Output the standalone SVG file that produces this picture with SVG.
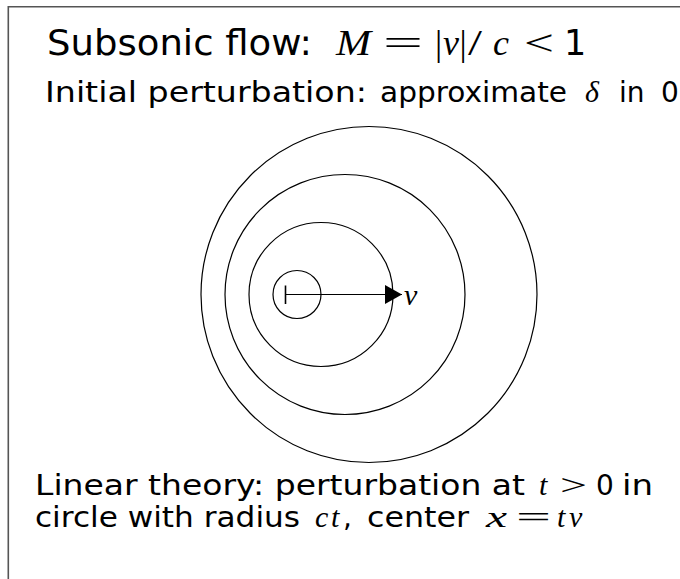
<svg xmlns="http://www.w3.org/2000/svg" width="680" height="579" viewBox="0 0 680 579">
<style>
.sans{font-family:"DejaVu Sans","Liberation Sans",sans-serif;fill:#000}
.m{font-family:"Liberation Serif","DejaVu Serif",serif;font-style:italic;fill:#000}
.r{font-family:"Liberation Serif","DejaVu Serif",serif;fill:#000}
.wave{fill:none;stroke:#000;stroke-width:1.2}
.frame{fill:none;stroke:#555;stroke-width:1.6}
</style>
<defs>
<marker id="head" markerWidth="18" markerHeight="20" refX="17" refY="9.5" orient="auto" markerUnits="userSpaceOnUse">
<path d="M0,0 L17,9.5 L0,19 Z" fill="#000"/>
</marker>
</defs>
<g id="frame">
<path class="frame" d="M8.3,579 L8.3,6.7 L680,6.7"/>
</g>
<g id="title">
<text class="sans" x="47" y="55" font-size="35" textLength="265" lengthAdjust="spacingAndGlyphs">Subsonic flow:</text>
<text class="m" x="336" y="55" font-size="36" textLength="35" lengthAdjust="spacingAndGlyphs">M</text>
<text class="r" x="383" y="55" font-size="36" textLength="40" lengthAdjust="spacingAndGlyphs">=</text>
<text class="r" x="435" y="55" font-size="36">|</text>
<text class="m" x="443" y="55" font-size="36">v</text>
<text class="r" x="459.5" y="55" font-size="36">|</text>
<text class="r" x="468" y="55" font-size="36" textLength="14" lengthAdjust="spacingAndGlyphs">/</text>
<text class="m" x="493" y="55" font-size="36">c</text>
<text class="r" x="524" y="55" font-size="36" textLength="30" lengthAdjust="spacingAndGlyphs">&lt;</text>
<text class="sans" x="564" y="55" font-size="35">1</text>
</g>
<g id="initial">
<text class="sans" x="45" y="102" font-size="28" textLength="322" lengthAdjust="spacingAndGlyphs">Initial perturbation:</text>
<text class="sans" x="380" y="102" font-size="28" textLength="187" lengthAdjust="spacingAndGlyphs">approximate</text>
<text class="m" x="585" y="102" font-size="30">δ</text>
<text class="sans" x="619" y="102" font-size="28">in</text>
<text class="sans" x="661" y="102" font-size="28">0</text>
</g>
<g id="waves">
<circle id="wave1" class="wave" cx="297" cy="294.5" r="24"/>
<circle id="wave2" class="wave" cx="321" cy="294.5" r="72"/>
<circle id="wave3" class="wave" cx="345" cy="294.5" r="120"/>
<circle id="wave4" class="wave" cx="369" cy="294.5" r="168"/>
</g>
<g id="connectors">
<line x1="285.5" y1="285.5" x2="285.5" y2="304" stroke="#000" stroke-width="1.6"/>
<line x1="285.5" y1="294.5" x2="402" y2="294.5" stroke="#000" stroke-width="1.2" marker-end="url(#head)"/>
</g>
<g id="velocity-label">
<text class="m" x="404" y="305" font-size="30">v</text>
</g>
<g id="linear">
<text class="sans" x="35" y="495" font-size="28" textLength="490" lengthAdjust="spacingAndGlyphs">Linear theory: perturbation at</text>
<text class="m" x="539" y="495" font-size="30">t</text>
<text class="r" x="560" y="495" font-size="30" textLength="27" lengthAdjust="spacingAndGlyphs">&gt;</text>
<text class="sans" x="596" y="495" font-size="28">0</text>
<text class="sans" x="622" y="495" font-size="28" textLength="31" lengthAdjust="spacingAndGlyphs">in</text>
<text class="sans" x="35" y="527" font-size="28" textLength="265" lengthAdjust="spacingAndGlyphs">circle with radius</text>
<text class="m" x="315" y="527" font-size="30">c</text>
<text class="m" x="331" y="527" font-size="30">t</text>
<text class="sans" x="343" y="527" font-size="28">,</text>
<text class="sans" x="367" y="527" font-size="28" textLength="102" lengthAdjust="spacingAndGlyphs">center</text>
<text class="m" x="486" y="527" font-size="30" textLength="21" lengthAdjust="spacingAndGlyphs">x</text>
<text class="r" x="516" y="527" font-size="30" textLength="35" lengthAdjust="spacingAndGlyphs">=</text>
<text class="m" x="557" y="527" font-size="30">t</text>
<text class="m" x="569" y="527" font-size="30">v</text>
</g>
</svg>
